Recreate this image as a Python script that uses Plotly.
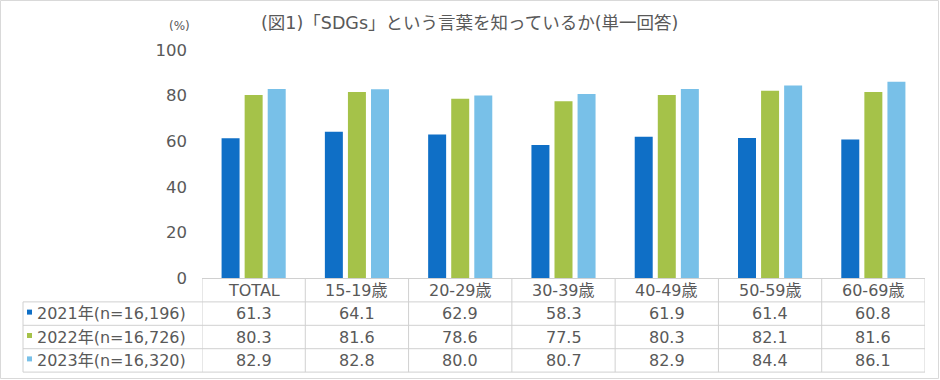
import plotly.graph_objects as go

# ---------------- data ----------------
categories = ["TOTAL", "15-19歳", "20-29歳", "30-39歳", "40-49歳", "50-59歳", "60-69歳"]
series_names = ["2021年(n=16,196)", "2022年(n=16,726)", "2023年(n=16,320)"]
values_2021 = [61.3, 64.1, 62.9, 58.3, 61.9, 61.4, 60.8]
values_2022 = [80.3, 81.6, 78.6, 77.5, 80.3, 82.1, 81.6]
values_2023 = [82.9, 82.8, 80.0, 80.7, 82.9, 84.4, 86.1]
series_colors = ["#0F6FC6", "#A5C249", "#78C0E8"]
y_ticks = [0, 20, 40, 60, 80, 100]
title_text = "(図1)「SDGs」という言葉を知っているか(単一回答)"
unit_text = "(%)"

series_values = [values_2021, values_2022, values_2023]

# ---------------- layout geometry (pixels) ----------------
W, H = 940, 380
L, R, T, B = 202, 15, 50, 102
PW, PH = W - L - R, H - T - B
FONT = "DejaVu Sans, Noto Sans CJK JP, sans-serif"
TXT = "#595959"
GRID = "#D0D0D0"


def px_x(p):
    return (p - L) / PW


def px_y(p):
    return (H - B - p) / PH


fig = go.Figure()
for name, vals, col in zip(series_names, series_values, series_colors):
    fig.add_trace(go.Bar(x=categories, y=vals, name=name, marker_color=col,
                         marker_line_width=0, showlegend=False, hoverinfo="skip"))

shapes = []
annotations = []

# table geometry
row_h = 23.4
top = H - B + 0.5
rows_y = [top + i * row_h for i in range(5)]
label_left = 23

shapes.append(dict(type="line", xref="paper", yref="paper", x0=0, x1=1,
                   y0=px_y(rows_y[0]), y1=px_y(rows_y[0]), line=dict(color=GRID, width=1)))
for yy in rows_y[1:]:
    shapes.append(dict(type="line", xref="paper", yref="paper", x0=px_x(label_left), x1=1,
                       y0=px_y(yy), y1=px_y(yy), line=dict(color=GRID, width=1)))
for i in range(len(categories) + 1):
    shapes.append(dict(type="line", xref="x", yref="paper", x0=i - 0.5, x1=i - 0.5,
                       y0=px_y(rows_y[0]), y1=px_y(rows_y[-1]), line=dict(color=GRID, width=1)))
shapes.append(dict(type="line", xref="paper", yref="paper", x0=px_x(label_left), x1=px_x(label_left),
                   y0=px_y(rows_y[1]), y1=px_y(rows_y[-1]), line=dict(color=GRID, width=1)))

for c in categories:
    annotations.append(dict(x=c, xref="x", y=px_y((rows_y[0] + rows_y[1]) / 2), yref="paper",
                            text=c, showarrow=False, font=dict(size=16, color=TXT, family=FONT),
                            xanchor="center", yanchor="middle"))
for r, (name, vals, col) in enumerate(zip(series_names, series_values, series_colors)):
    yc = (rows_y[r + 1] + rows_y[r + 2]) / 2
    for c, v in zip(categories, vals):
        annotations.append(dict(x=c, xref="x", y=px_y(yc), yref="paper", text=f"{v:.1f}",
                                showarrow=False, font=dict(size=16, color=TXT, family=FONT),
                                xanchor="center", yanchor="middle"))
    annotations.append(dict(x=px_x(35), xref="paper", y=px_y(yc), yref="paper", text=name,
                            showarrow=False, font=dict(size=16, color=TXT, family=FONT),
                            xanchor="left", yanchor="middle"))
    shapes.append(dict(type="rect", xref="paper", yref="paper", x0=px_x(27), x1=px_x(32),
                       y0=px_y(yc - 4), y1=px_y(yc + 1), fillcolor=col, line=dict(width=0)))

annotations.append(dict(x=px_x(469), xref="paper", y=px_y(23), yref="paper", text=title_text,
                        showarrow=False, font=dict(size=17.5, color=TXT, family=FONT),
                        xanchor="center", yanchor="middle"))
annotations.append(dict(x=px_x(179), xref="paper", y=px_y(26), yref="paper", text=unit_text,
                        showarrow=False, font=dict(size=12, color=TXT, family=FONT),
                        xanchor="center", yanchor="middle"))

shapes.append(dict(type="rect", xref="paper", yref="paper", x0=px_x(0.5), x1=px_x(938.5),
                   y0=px_y(0.5), y1=px_y(378.5), line=dict(color="#D9D9D9", width=1)))

fig.update_layout(
    width=W, height=H,
    margin=dict(l=L, r=R, t=T, b=B, pad=0),
    paper_bgcolor="white", plot_bgcolor="white",
    barmode="group", bargap=0.33, bargroupgap=0.22,
    font=dict(family=FONT, color=TXT),
    shapes=shapes, annotations=annotations,
    xaxis=dict(range=[-0.5, len(categories) - 0.5], showticklabels=False, showgrid=False,
               zeroline=False, showline=False, ticks=""),
    yaxis=dict(range=[0, 100], tickvals=y_ticks, showgrid=False, zeroline=False, showline=False,
               tickfont=dict(size=16.5, color=TXT, family=FONT), ticklabelstandoff=14, ticks=""),
)

fig.write_html("out.html", config={"displayModeBar": False},
               post_script="document.body.style.margin='0';document.body.style.overflow='hidden';")
